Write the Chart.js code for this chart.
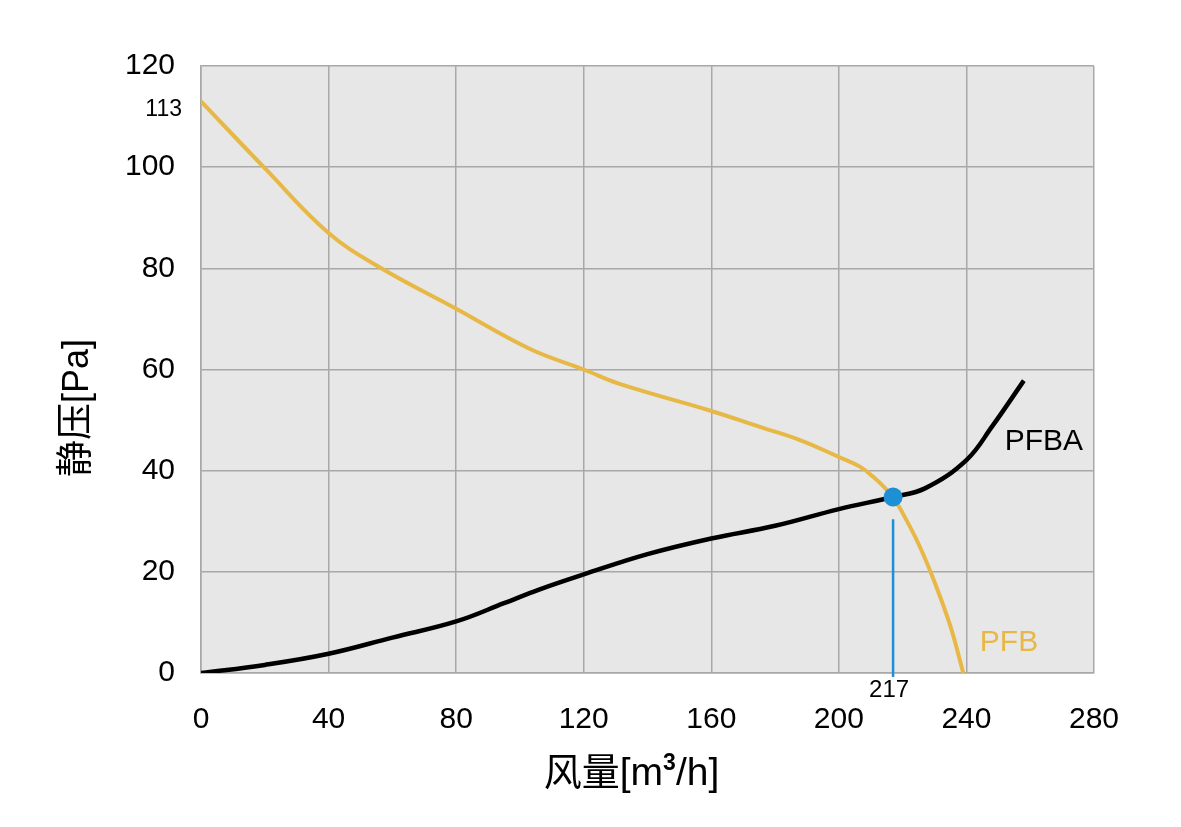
<!DOCTYPE html>
<html>
<head>
<meta charset="utf-8">
<script src="https://cdn.jsdelivr.net/npm/chart.js@4.4.1/dist/chart.umd.min.js"></script>
<style>
	html, body { margin: 0; padding: 0; background: #fff; }
	#wrap { width: 1181px; height: 827px; }
</style>
</head>
<body>
<div id="wrap"><canvas id="chart"></canvas></div>
<script>
// axis ticks
var xTicks = [0, 40, 80, 120, 160, 200, 240, 280];
var yTicks = [0, 20, 40, 60, 80, 100, 120];

// PFB curve (yellow)
var pfbX = [0, 20, 40, 56, 80, 103, 120, 131, 160, 175, 188, 200, 206.6, 211.3, 215, 217, 220, 225, 230, 235, 239];
var pfbY = [113, 99.8, 87, 80.2, 72, 64.1, 60, 57.2, 51.8, 48.7, 46, 42.7, 40.8, 38.5, 36.2, 34.8, 31.6, 25.5, 18, 9.2, 0];

// PFBA curve (black)
var pfbaX = [0, 20, 40, 60, 80, 95, 106, 120, 140, 160, 180, 200, 217, 227, 240, 248, 258];
var pfbaY = [0, 1.6, 3.8, 7.0, 10.2, 13.8, 16.5, 19.5, 23.5, 26.6, 29.1, 32.4, 34.8, 36.5, 42.1, 48.7, 57.8];

// operating point
var opX = 217, opY = 34.8;
var opLineY = [30.4, -0.8];

var YELLOW = "#e8b846";
var BLUE = "#1e8fd5";
var GRID = "#a8a8a8";

function toPoints(xs, ys) {
	return xs.map(function (x, i) { return { x: x, y: ys[i] }; });
}

// plot background
var bgPlugin = {
	id: "bg",
	beforeDraw: function (chart) {
		var a = chart.chartArea, ctx = chart.ctx;
		ctx.save();
		ctx.fillStyle = "#e7e7e7";
		ctx.fillRect(a.left, a.top, a.right - a.left, a.bottom - a.top);
		ctx.restore();
	}
};

// draw a row of text pieces one after another
function drawRuns(ctx, runs, startX, baseY) {
	var x = startX;
	runs.forEach(function (r) {
		ctx.font = r.font;
		ctx.fillText(r.text, x, baseY - (r.rise || 0));
		x += ctx.measureText(r.text).width;
	});
}
function runsWidth(ctx, runs) {
	var w = 0;
	runs.forEach(function (r) {
		ctx.font = r.font;
		w += ctx.measureText(r.text).width;
	});
	return w;
}

var labelPlugin = {
	id: "labels",
	afterDatasetsDraw: function (chart) {
		var ctx = chart.ctx, a = chart.chartArea;
		var xs = chart.scales.x, ys = chart.scales.y;
		ctx.save();
		ctx.fillStyle = "#000";
		ctx.textBaseline = "middle";

		ctx.font = "23px 'Liberation Sans', Arial, sans-serif";
		ctx.textAlign = "right";
		ctx.fillText("113", a.left - 19, ys.getPixelForValue(113) + 8);

		ctx.font = "24px 'Liberation Sans', Arial, sans-serif";
		ctx.textAlign = "center";
		ctx.fillText("217", xs.getPixelForValue(opX) - 4, a.bottom + 17);

		ctx.font = "30px 'Liberation Sans', Arial, sans-serif";
		ctx.textAlign = "left";
		ctx.fillText("PFBA", xs.getPixelForValue(252), ys.getPixelForValue(45.8));
		ctx.fillStyle = YELLOW;
		ctx.fillText("PFB", xs.getPixelForValue(244.2), ys.getPixelForValue(6));

		// axis titles
		ctx.fillStyle = "#000";
		ctx.textBaseline = "alphabetic";
		ctx.textAlign = "left";
		var cjk = "'Noto Sans CJK SC', sans-serif";
		var lat = "'Liberation Sans', Arial, sans-serif";
		var xRuns = [
			{ text: "风量", font: "38px " + cjk },
			{ text: "[m", font: "39px " + lat },
			{ text: "3", font: "bold 23px " + lat, rise: 15 },
			{ text: "/h]", font: "39px " + lat }
		];
		var xw = runsWidth(ctx, xRuns);
		var xc = (a.left + a.right) / 2 - 16;
		drawRuns(ctx, xRuns, xc - xw / 2, 785);

		var yRuns = [
			{ text: "静压", font: "37px " + cjk },
			{ text: "[Pa]", font: "36px " + lat }
		];
		var yw = runsWidth(ctx, yRuns);
		ctx.translate(88, 408);
		ctx.rotate(-Math.PI / 2);
		drawRuns(ctx, yRuns, -yw / 2, 0);
		ctx.restore();
	}
};

var tickFont = { family: "'Liberation Sans', Arial, sans-serif", size: 30 };

new Chart(document.getElementById("chart"), {
	type: "line",
	data: {
		datasets: [
			{
				label: "op",
				data: [{ x: opX, y: opY }],
				showLine: false,
				pointRadius: 9.5,
				pointBackgroundColor: BLUE,
				pointBorderWidth: 0,
				order: 0
			},
			{
				label: "PFBA",
				data: toPoints(pfbaX, pfbaY),
				borderColor: "#000",
				borderWidth: 4.5,
				pointRadius: 0,
				tension: 0.4,
				order: 1
			},
			{
				label: "PFB",
				data: toPoints(pfbX, pfbY),
				borderColor: YELLOW,
				borderWidth: 4,
				pointRadius: 0,
				tension: 0.4,
				order: 2
			},
			{
				label: "opLine",
				data: [{ x: opX, y: opLineY[0] }, { x: opX, y: opLineY[1] }],
				borderColor: BLUE,
				borderWidth: 2.5,
				pointRadius: 0,
				clip: false,
				order: 3
			}
		]
	},
	options: {
		responsive: true,
		maintainAspectRatio: false,
		animation: false,
		layout: { padding: { top: 66, right: 87, left: 0, bottom: 0 } },
		plugins: {
			legend: { display: false },
			tooltip: { enabled: false }
		},
		scales: {
			x: {
				type: "linear",
				min: 0,
				max: 280,
				afterBuildTicks: function (s) { s.ticks = xTicks.map(function (v) { return { value: v }; }); },
				afterFit: function (s) { s.height = 154; },
				grid: { color: GRID, lineWidth: 1.5, drawTicks: false },
				border: { color: GRID, width: 1.5 },
				ticks: { color: "#000", font: tickFont, padding: 29, maxRotation: 0 }
			},
			y: {
				min: 0,
				max: 120,
				afterBuildTicks: function (s) { s.ticks = yTicks.map(function (v) { return { value: v }; }); },
				afterFit: function (s) { s.width = 201; },
				grid: { color: GRID, lineWidth: 1.5, drawTicks: false },
				border: { color: GRID, width: 1.5 },
				ticks: { color: "#000", font: tickFont, padding: 26 }
			}
		}
	},
	plugins: [bgPlugin, labelPlugin]
});
</script>
</body>
</html>
